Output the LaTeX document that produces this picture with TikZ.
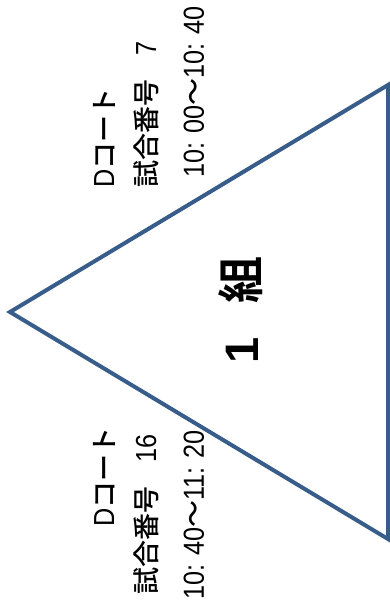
\documentclass[tikz,border=0pt]{standalone}
\usepackage{fontspec}
\setmainfont{Liberation Sans}
\newfontfamily\narrow{Liberation Sans}[FakeStretch=0.87, Scale=1.074]
\newfontfamily\jp{Noto Sans CJK JP}[UprightFont=* Medium, BoldFont=* Bold]
\usetikzlibrary{positioning,calc}
\definecolor{edgeblue}{RGB}{56,93,138}
\newcommand{\jc}{\makebox[16pt][l]{:}}
\newcommand{\jt}{{\jp ～}}
\tikzset{
	courttext/.style={
		rotate=90, inner sep=0pt, font=\fontsize{27}{30}\selectfont\narrow
	},
	%
	grouptext/.style={
		rotate=90, inner sep=0pt, font=\fontsize{47}{50}\selectfont\bfseries
	},
	%
	bracket/.style={
		draw=edgeblue, line width=4pt, line join=miter
	}
}
\begin{document}
\begin{tikzpicture}[x=1pt,y=1pt]
    \useasboundingbox (0,0) rectangle (390,612);
    \coordinate(Tip) at (10,300);
    \coordinate(Top) at (388,527);
    \coordinate(Bot) at (388,73);
    \draw[bracket] (Tip) -- (Top) -- (Bot) -- cycle;
    \node(Group)[grouptext] at (241,302){1\hspace{34pt}{\jp 組}};
    % upper match
    \node(UpCourt)[courttext, anchor=west] at (104,424){D{\jp コート}};
    \node(UpNo)[courttext, anchor=west] at (146,424){{\jp 試合番号}\hspace{24pt}7};
    \node(UpTime)[courttext, anchor=west] at (194,434.5){10\jc00\jt10\jc40};
    % lower match
    \node(LoCourt)[courttext, anchor=east] at (104,185){D{\jp コート}};
    \node(LoNo)[courttext, anchor=east] at (146,178){{\jp 試合番号}\hspace{24pt}16};
    \node(LoTime)[courttext, anchor=east] at (194,182){10\jc40\jt11\jc20};
\end{tikzpicture}
\end{document}
